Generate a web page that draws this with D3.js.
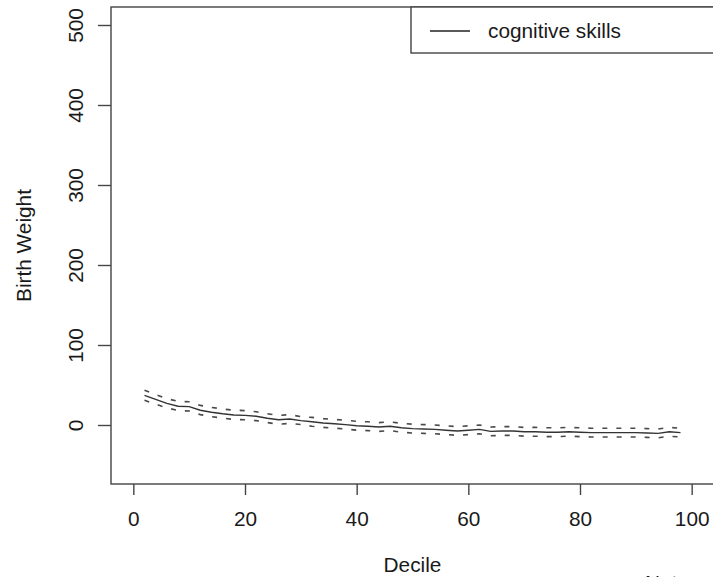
<!DOCTYPE html>
<html>
<head>
<meta charset="utf-8">
<script src="https://cdn.jsdelivr.net/npm/d3@7"></script>
<style>
  html, body { margin: 0; padding: 0; background: #fff; }
  svg { display: block; font-family: "Liberation Sans", Arial, Helvetica, sans-serif; }
</style>
</head>
<body>
<svg id="chart" width="713" height="577"></svg>
<script>
// ---- data ----
const percentile = [2,4,6,8,10,12,14,16,18,20,22,24,26,28,30,32,34,36,38,40,42,44,46,48,50,
                    52,54,56,58,60,62,64,66,68,70,72,74,76,78,80,82,84,86,88,90,92,94,96,98];
const estimate   = [37,32,27,23.5,23,18.5,16,14,12.5,12,11,8.5,6.5,7.5,5.5,4,2.5,1.5,0.5,-1,
                    -1.5,-2.5,-1.5,-3.5,-4.5,-5,-5.5,-6.5,-7.5,-6.5,-5.5,-8,-7.5,-7.5,-8.5,-8.5,
                    -9,-9,-8.5,-9,-9.5,-9.5,-9.5,-9.5,-9.5,-10,-10.5,-8.5,-9.5];
const upperCI    = [43.5,38,33,29.5,29,24.5,22,20,18.5,18,16.5,14,12,13,10.5,9.5,8,7,6,4.5,
                    4,3,4,2,1,0.5,0,-1,-2,-1,0,-2.5,-2,-2,-3,-3,-3.5,-3.5,-3,-3.5,-4,-4,-4,-4,
                    -4,-4.5,-5,-3,-4];
const lowerCI    = [31,26,21.5,18,17.5,13,10.5,8.5,7,6.5,5.5,3,1,2,0.5,-1.5,-3,-4,-5,-6.5,
                    -7,-8,-7,-9,-10,-10.5,-11,-12,-13,-12,-11,-13.5,-13,-13,-14,-14,-14.5,-14.5,
                    -14,-14.5,-15,-15,-15,-15,-15,-15.5,-16,-14,-15];
const xTicks = [0,20,40,60,80,100];
const yTicks = [0,100,200,300,400,500];
const xTitle = "Decile";
const yTitle = "Birth Weight";
const legendLabel = "cognitive skills";
const noteText = "Note:";

// ---- layout ----
const svg = d3.select("#chart");
const pL = 111, pR = 714, pT = 7, pB = 484;
const x = d3.scaleLinear().domain([-4, 104]).range([pL, pR]);
const y = d3.scaleLinear().domain([-73.75, 522.5]).range([pB, pT]);
const FS = 20.8;
const textColor = "#1a1a1a";

// lines
const line = (arr) => d3.line()
  .x((d, i) => x(percentile[i]))
  .y(d => y(d))(arr);

svg.append("path").attr("d", line(upperCI))
  .attr("fill", "none").attr("stroke", "#4a4a4a").attr("stroke-width", 1.6)
  .attr("stroke-dasharray", "5,9");
svg.append("path").attr("d", line(lowerCI))
  .attr("fill", "none").attr("stroke", "#4a4a4a").attr("stroke-width", 1.6)
  .attr("stroke-dasharray", "5,9");
svg.append("path").attr("d", line(estimate))
  .attr("fill", "none").attr("stroke", "#333").attr("stroke-width", 1.4);

// box
svg.append("rect").attr("x", pL).attr("y", pT)
  .attr("width", pR - pL).attr("height", pB - pT)
  .attr("fill", "none").attr("stroke", "#444").attr("stroke-width", 1.4);

// x axis
const gx = svg.append("g").attr("transform", `translate(0,${pB})`)
  .call(d3.axisBottom(x).tickValues(xTicks).tickSize(11).tickPadding(16).tickFormat(d3.format("d")));
gx.select(".domain").remove();
gx.selectAll(".tick line").attr("stroke", "#444").attr("stroke-width", 1.4);
gx.selectAll(".tick text").attr("fill", textColor)
  .style("font-size", FS + "px").style("font-family", "Liberation Sans, Arial, sans-serif");

// y axis
const gy = svg.append("g").attr("transform", `translate(${pL},0)`)
  .call(d3.axisLeft(y).tickValues(yTicks).tickSize(13).tickFormat(d3.format("d")));
gy.select(".domain").remove();
gy.selectAll(".tick line").attr("stroke", "#444").attr("stroke-width", 1.4);
gy.selectAll(".tick text")
  .attr("x", null).attr("dy", "0.36em")
  .attr("transform", "translate(-36,0) rotate(-90)")
  .attr("text-anchor", "middle").attr("fill", textColor)
  .style("font-size", FS + "px").style("font-family", "Liberation Sans, Arial, sans-serif");

// titles
svg.append("text").attr("x", (pL + pR) / 2).attr("y", 572)
  .attr("text-anchor", "middle").attr("fill", textColor)
  .style("font-size", FS + "px").text(xTitle);
svg.append("text")
  .attr("transform", `translate(31,${(pT + pB) / 2}) rotate(-90)`)
  .attr("text-anchor", "middle").attr("fill", textColor)
  .style("font-size", FS + "px").text(yTitle);

// legend
const lg = svg.append("g");
lg.append("rect").attr("x", 411).attr("y", pT).attr("width", pR - 411).attr("height", 46)
  .attr("fill", "#fff").attr("stroke", "#444").attr("stroke-width", 1.4);
lg.append("line").attr("x1", 430).attr("x2", 470).attr("y1", 31).attr("y2", 31)
  .attr("stroke", "#222").attr("stroke-width", 1.3);
lg.append("text").attr("x", 488).attr("y", 31).attr("dy", "0.35em").attr("fill", textColor)
  .style("font-size", FS + "px").text(legendLabel);

// partially visible note at the bottom edge (cut off in the reference too)
svg.append("text").attr("x", 645).attr("y", 590).attr("fill", textColor)
  .style("font-size", FS + "px").text(noteText);
</script>
</body>
</html>
